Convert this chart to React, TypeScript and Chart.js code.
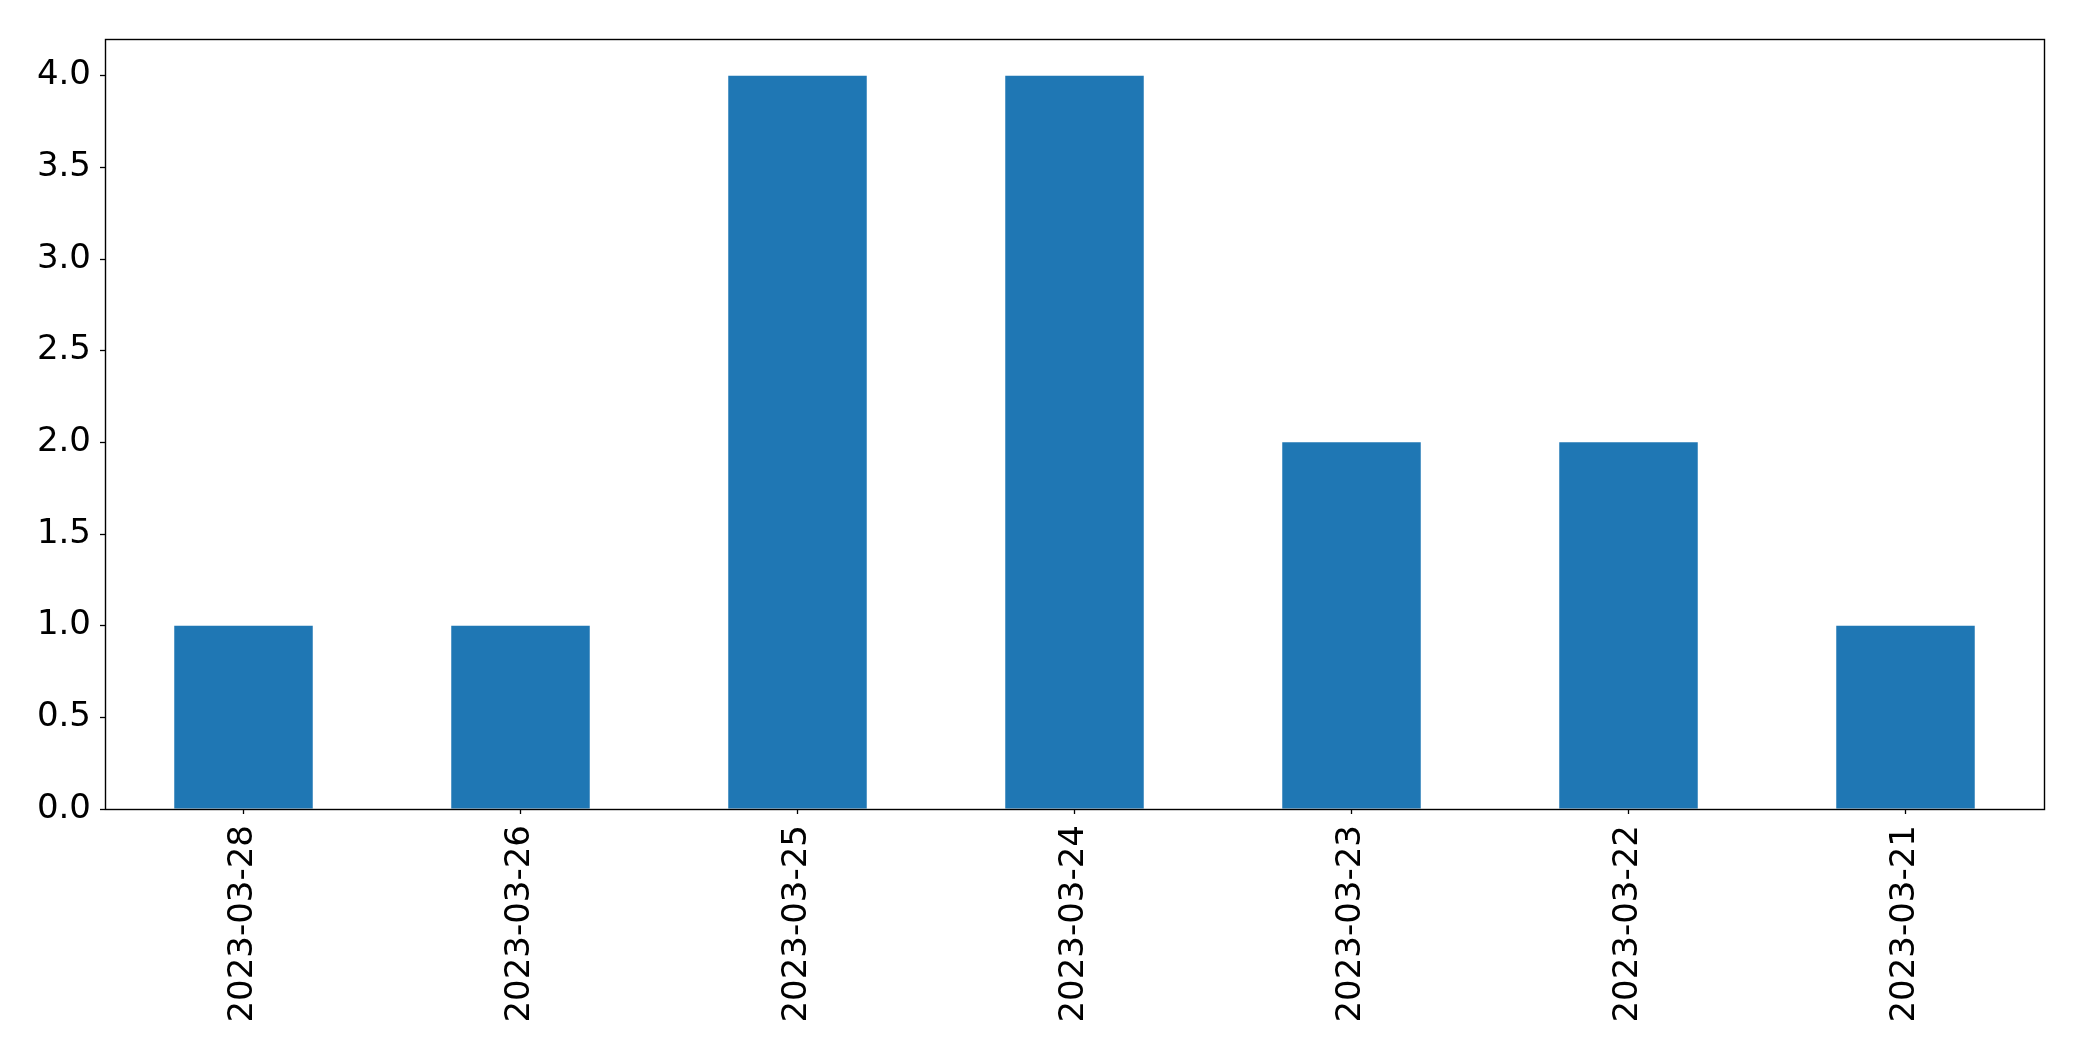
import React, { useEffect, useRef } from "react";
import { Chart, registerables } from "chart.js";

Chart.register(...registerables);

const categories = [
  "2023-03-28",
  "2023-03-26",
  "2023-03-25",
  "2023-03-24",
  "2023-03-23",
  "2023-03-22",
  "2023-03-21",
];
const counts = [1, 1, 4, 4, 2, 2, 1];
const yTicks = [0, 0.5, 1, 1.5, 2, 2.5, 3, 3.5, 4];
const yMax = 4.2;

const W = 2082;
const H = 1061;

const framePlugin = {
  id: "frame",
  afterDatasetsDraw(chart: any) {
    const { ctx, chartArea } = chart;
    ctx.save();
    ctx.strokeStyle = "#000";
    ctx.lineWidth = 1.4;
    ctx.strokeRect(
      Math.round(chartArea.left) + 0.5,
      Math.round(chartArea.top) + 0.5,
      Math.round(chartArea.right - chartArea.left),
      Math.round(chartArea.bottom - chartArea.top)
    );
    ctx.restore();
  },
};

export default function App() {
  const ref = useRef<HTMLCanvasElement | null>(null);

  useEffect(() => {
    if (!ref.current) return;
    const font = { family: "'DejaVu Sans', sans-serif", size: 34 };
    const chart = new Chart(ref.current, {
      type: "bar",
      data: {
        labels: categories,
        datasets: [
          {
            data: counts,
            backgroundColor: "#1f77b4",
            borderWidth: 0,
            categoryPercentage: 0.5,
            barPercentage: 1,
          },
        ],
      },
      options: {
        responsive: false,
        animation: false,
        layout: { padding: { left: 0, top: 39, right: 38, bottom: 0 } },
        plugins: {
          legend: { display: false },
          tooltip: { enabled: false },
        },
        scales: {
          x: {
            offset: true,
            grid: {
              offset: false,
              drawOnChartArea: false,
              drawTicks: true,
              tickLength: 5,
              tickWidth: 1.3,
              tickColor: "#000",
            },
            border: { display: false },
            ticks: {
              color: "#000",
              font,
              minRotation: 90,
              maxRotation: 90,
              padding: 11,
              autoSkip: false,
            },
            afterFit(scale: any) {
              scale.height = H - 809;
            },
          },
          y: {
            min: 0,
            max: yMax,
            grid: {
              drawOnChartArea: false,
              drawTicks: true,
              tickLength: 5,
              tickWidth: 1.3,
              tickColor: "#000",
            },
            border: { display: false },
            ticks: {
              color: "#000",
              font,
              padding: 9,
              callback: (v: any) => Number(v).toFixed(1),
            },
            afterBuildTicks(scale: any) {
              scale.ticks = yTicks.map((v) => ({ value: v }));
            },
            afterFit(scale: any) {
              scale.width = 105;
            },
          },
        },
      },
      plugins: [framePlugin],
    });
    return () => chart.destroy();
  }, []);

  return (
    <div
      style={{
        position: "fixed",
        left: 0,
        top: 0,
        width: W,
        height: H,
        background: "#fff",
      }}
    >
      <canvas
        ref={ref}
        width={W}
        height={H}
        style={{ display: "block", width: W, height: H }}
      />
    </div>
  );
}
